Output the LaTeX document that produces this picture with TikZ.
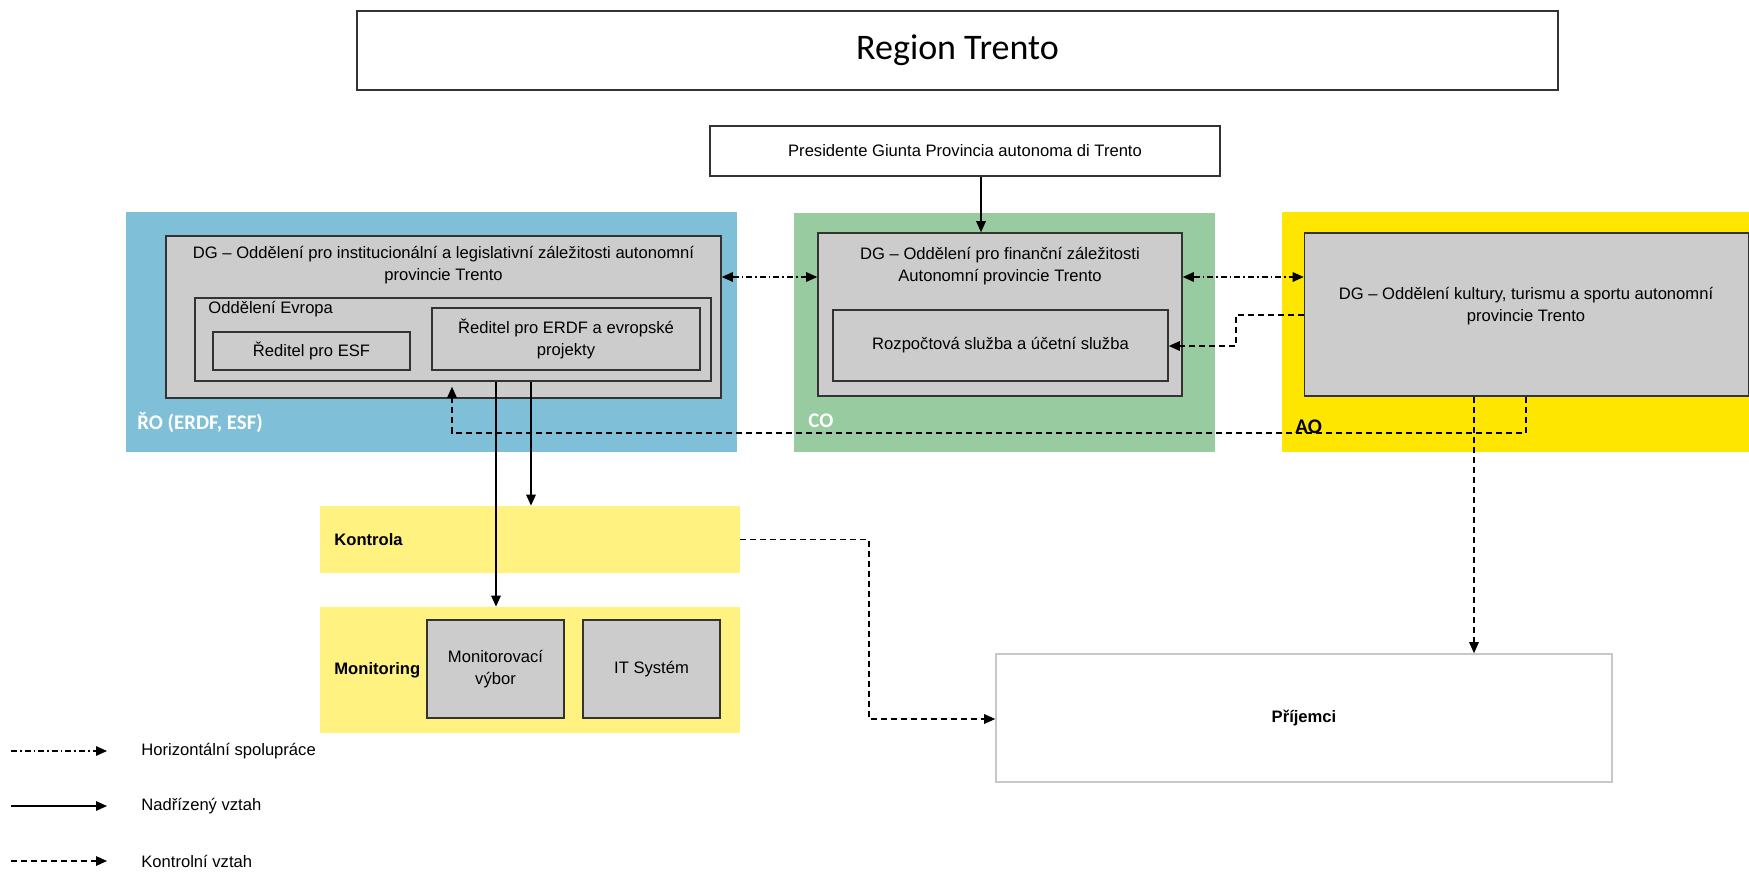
\documentclass[tikz,border=0pt]{standalone}
\usepackage{fontspec}
\setmainfont{Liberation Sans}
\newfontfamily\calfont{Carlito}
\usetikzlibrary{arrows.meta,calc}
\definecolor{roblue}{HTML}{7FBFD8}
\definecolor{cogreen}{HTML}{98CB9F}
\definecolor{aoyellow}{HTML}{FFE600}
\definecolor{lightyel}{HTML}{FFF280}
\definecolor{boxgray}{HTML}{CCCCCC}
\definecolor{bordgray}{HTML}{333333}
\definecolor{prijgray}{HTML}{C8C8C8}
\begin{document}
\begin{tikzpicture}[x=0.5pt,y=-0.5pt,
  every node/.style={font=\fontsize{8.3}{11}\selectfont, text=black},
  box/.style={draw=bordgray, line width=0.8pt, fill=boxgray, inner sep=0pt, align=center},
  wbox/.style={draw=bordgray, line width=0.8pt, fill=white, inner sep=0pt, align=center},
  region/.style={inner sep=0pt, draw=none},
  tipend/.style={-{Triangle[length=5.5pt,width=4.8pt]}},
  solidarr/.style={line width=0.6pt, tipend},
  ctrl/.style={line width=0.6pt, dash pattern=on 3pt off 2pt, tipend},
  coop/.style={line width=0.6pt, dash pattern=on 3pt off 1.5pt on 0.8pt off 1.5pt, {Triangle[length=5.5pt,width=4.8pt]}-{Triangle[length=5.5pt,width=4.8pt]}},
  coopleg/.style={line width=0.6pt, dash pattern=on 3pt off 1.5pt on 0.8pt off 1.5pt, tipend},
  reglabel/.style={font=\calfont\bfseries\fontsize{10.4}{12}\selectfont, anchor=west, inner sep=0pt},
  inlabel/.style={align=center, inner sep=0pt},
  boldlabel/.style={inlabel, anchor=west, font=\bfseries\fontsize{8.3}{11}\selectfont},
]
\useasboundingbox (0,0) rectangle (1749,872);

% title and president
\node[wbox, minimum width=600.5pt, minimum height=39.5pt, font=\calfont\fontsize{18}{21}\selectfont] (title) at (957.5,50.5) {Region Trento};
\node[wbox, minimum width=255pt, minimum height=25pt] (pres) at (965,151) {Presidente Giunta Provincia autonoma di Trento};

% coloured regions
\node[region, fill=roblue, minimum width=305.5pt, minimum height=120pt] (ro) at (431.5,332) {};
\node[region, fill=cogreen, minimum width=210.5pt, minimum height=119.5pt] (co) at (1004.5,332.5) {};
\node[region, fill=aoyellow, minimum width=233.5pt, minimum height=120pt] (ao) at (1515.5,332) {};

% RO boxes
\node[box, minimum width=277.5pt, minimum height=81pt] (inst) at (443.5,317) {};
\node[inlabel] (instt) at (443.5,265.5) {DG – Oddělení pro institucionální a legislativní záležitosti autonomní\\provincie Trento};
\node[box, minimum width=258pt, minimum height=41.5pt] (evropa) at (453,339.5) {};
\node[inlabel, anchor=west] (evropat) at (208,309) {Oddělení Evropa};
\node[box, minimum width=98.5pt, minimum height=19pt] (esf) at (311.5,351) {Ředitel pro ESF};
\node[box, minimum width=134pt, minimum height=31pt] (erdf) at (566,339) {Ředitel pro ERDF a evropské\\projekty};
\node[reglabel, text=white] (rol) at (137,423) {ŘO (ERDF, ESF)};

% CO boxes
\node[box, minimum width=182pt, minimum height=81.5pt] (fin) at (1000,314.5) {};
\node[inlabel] (fint) at (1000,266) {DG – Oddělení pro finanční záležitosti\\Autonomní provincie Trento};
\node[box, minimum width=167.5pt, minimum height=35.5pt] (rozp) at (1000.5,345.5) {Rozpočtová služba a účetní služba};
\node[reglabel, text=white] (col) at (808,421) {CO};

% AO box
\node[box, minimum width=222pt, minimum height=81.5pt] (kult) at (1526.5,314.5) {};
\node[inlabel] (kultt) at (1526,306) {DG – Oddělení kultury, turismu a sportu autonomní\\provincie Trento};
\node[reglabel, text=black] (aol) at (1295,427) {AO};

% Kontrola / Monitoring
\node[region, fill=lightyel, minimum width=210pt, minimum height=33.5pt] (kon) at (530,539.5) {};
\node[boldlabel] (kont) at (334,540) {Kontrola};
\node[region, fill=lightyel, minimum width=210pt, minimum height=63pt] (mon) at (530,670) {};
\node[boldlabel] (mont) at (334,670) {Monitoring};
\node[box, minimum width=68.5pt, minimum height=49pt] (mv) at (495.5,669) {Monitorovací\\výbor};
\node[box, minimum width=68.5pt, minimum height=49pt] (it) at (651.5,669) {IT Systém};

% Prijemci
\node[draw=prijgray, line width=0.8pt, fill=white, minimum width=308pt, minimum height=64pt, inner sep=0pt, font=\bfseries\fontsize{8.3}{11}\selectfont] (prij) at (1304,718) {Příjemci};

% helper coordinates
\coordinate (xpres) at (981,0);
\coordinate (ycoop) at (0,277);
\coordinate (y315) at (0,315);
\coordinate (j1) at (1236,346);
\coordinate (x1526) at (1526,0);
\coordinate (y433) at (0,433);
\coordinate (x452) at (452,0);
\coordinate (x496) at (496,0);
\coordinate (x531) at (531,0);
\coordinate (j2) at (869,719);
\coordinate (x1474) at (1474,0);

% connectors
\draw[solidarr] (pres.south -| xpres) -- (fin.north -| xpres);
\draw[coop] (inst.east |- ycoop) -- (fin.west |- ycoop);
\draw[coop] (fin.east |- ycoop) -- (kult.west |- ycoop);
\draw[ctrl] (kult.west |- y315) -| (j1) -- (rozp.east |- j1);
\draw[ctrl] (kult.south -| x1526) -- (x1526 |- y433) -| ($(evropa.south -| x452)+(0,5)$);
\draw[solidarr] (evropa.south -| x496) -- (mon.north -| x496);
\draw[solidarr] (evropa.south -| x531) -- (kon.north -| x531);
\draw[ctrl] (kon.east) -| (j2) -- (prij.west |- j2);
\draw[ctrl] (kult.south -| x1474) -- (prij.north -| x1474);

% legend
\coordinate (l1s) at (11,751);
\coordinate (l1e) at (107,751);
\coordinate (l2s) at (11,806);
\coordinate (l2e) at (107,806);
\coordinate (l3s) at (11,861);
\coordinate (l3e) at (107,861);
\draw[coopleg] (l1s) -- (l1e);
\draw[solidarr] (l2s) -- (l2e);
\draw[ctrl] (l3s) -- (l3e);
\node[inlabel, anchor=west] (leg1) at (141,751) {Horizontální spolupráce};
\node[inlabel, anchor=west] (leg2) at (141,806) {Nadřízený vztah};
\node[inlabel, anchor=west] (leg3) at (141,861) {Kontrolní vztah};
\end{tikzpicture}
\end{document}
